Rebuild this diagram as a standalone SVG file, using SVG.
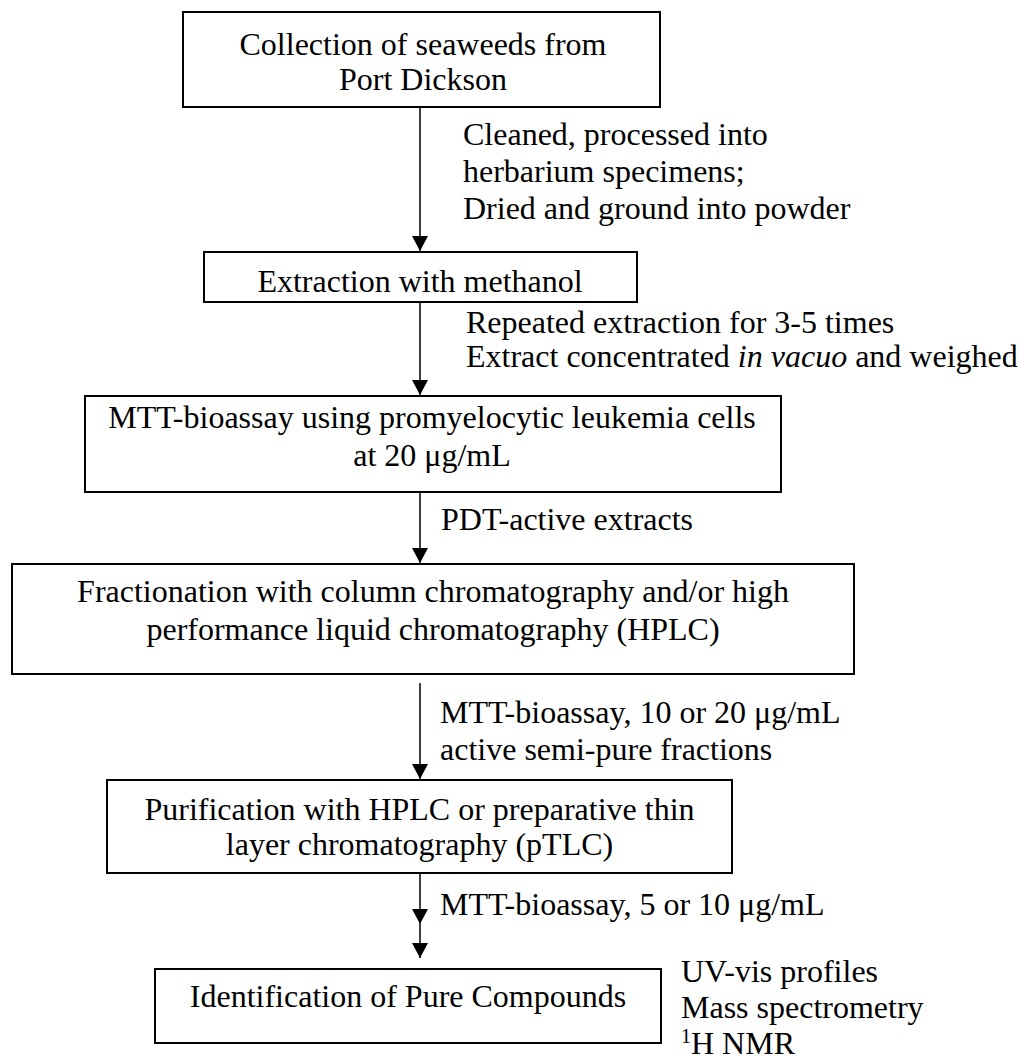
<svg xmlns="http://www.w3.org/2000/svg" width="1020" height="1059" viewBox="0 0 1020 1059">
  <style>
    .box { fill: #ffffff; stroke: #000000; stroke-width: 2; }
    .t { font-family: "Liberation Serif", "Times New Roman", serif; font-size: 32px; fill: #000000; }
    .c { text-anchor: middle; }
    .edge { stroke: #000000; stroke-width: 1.5; fill: none; }
  </style>
  <defs>
    <marker id="head" markerUnits="userSpaceOnUse" markerWidth="15" markerHeight="16" viewBox="0 0 15 16" refX="15" refY="8" orient="auto">
      <path d="M0,0 L15,8 L0,16 z" fill="#000000"/>
    </marker>
  </defs>

  <rect width="1020" height="1059" fill="#ffffff"/>

  <!-- connectors and their labels -->
  <g id="connectors">
    <line class="edge" x1="420" y1="107" x2="420" y2="251" marker-end="url(#head)"/>
    <line class="edge" x1="420" y1="302" x2="420" y2="395" marker-end="url(#head)"/>
    <line class="edge" x1="420" y1="492" x2="420" y2="563" marker-end="url(#head)"/>
    <line class="edge" x1="420" y1="683" x2="420" y2="779" marker-end="url(#head)"/>
    <path class="edge" d="M420,873 L420,924 L420,958" marker-mid="url(#head)" marker-end="url(#head)"/>

    <text class="t" x="463" y="145">Cleaned, processed into</text>
    <text class="t" x="463" y="182">herbarium specimens;</text>
    <text class="t" x="463" y="219">Dried and ground into powder</text>

    <text class="t" x="466" y="333">Repeated extraction for 3-5 times</text>
    <text class="t" x="466" y="367">Extract concentrated <tspan font-style="italic">in vacuo</tspan> and weighed</text>

    <text class="t" x="441" y="530">PDT-active extracts</text>

    <text class="t" x="440" y="723">MTT-bioassay, 10 or 20 μg/mL</text>
    <text class="t" x="440" y="760">active semi-pure fractions</text>

    <text class="t" x="440" y="915">MTT-bioassay, 5 or 10 μg/mL</text>
  </g>

  <g id="collection">
    <rect class="box" x="183" y="12" width="477" height="95"/>
    <text class="t c" x="423" y="55">Collection of seaweeds from</text>
    <text class="t c" x="423" y="90">Port Dickson</text>
  </g>

  <g id="extraction">
    <rect class="box" x="204" y="252" width="433" height="50"/>
    <text class="t c" x="420" y="292">Extraction with methanol</text>
  </g>

  <g id="bioassay">
    <rect class="box" x="85" y="396" width="696" height="96"/>
    <text class="t c" x="432" y="428">MTT-bioassay using promyelocytic leukemia cells</text>
    <text class="t c" x="432" y="466">at 20 μg/mL</text>
  </g>

  <g id="fractionation">
    <rect class="box" x="12" y="564" width="842" height="110"/>
    <text class="t c" x="433" y="602">Fractionation with column chromatography and/or high</text>
    <text class="t c" x="433" y="640">performance liquid chromatography (HPLC)</text>
  </g>

  <g id="purification">
    <rect class="box" x="107" y="780" width="625" height="93"/>
    <text class="t c" x="419.5" y="820">Purification with HPLC or preparative thin</text>
    <text class="t c" x="419.5" y="855">layer chromatography (pTLC)</text>
  </g>

  <g id="identification">
    <rect class="box" x="155" y="969" width="506" height="74"/>
    <text class="t c" x="408" y="1007">Identification of Pure Compounds</text>
    <text class="t" x="681" y="982">UV-vis profiles</text>
    <text class="t" x="681" y="1018">Mass spectrometry</text>
    <text class="t" x="681" y="1054"><tspan font-size="20" dy="-11">1</tspan><tspan dy="11">H NMR</tspan></text>
  </g>
</svg>
